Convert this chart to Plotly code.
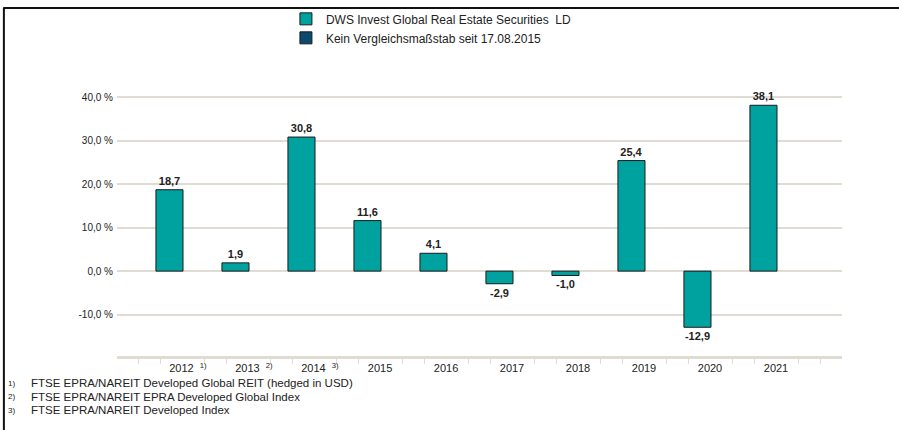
import plotly.graph_objects as go

years = ["2012", "2013", "2014", "2015", "2016", "2017", "2018", "2019", "2020", "2021"]
year_notes = ["1)", "2)", "3)", "", "", "", "", "", "", ""]
fund_values = [18.7, 1.9, 30.8, 11.6, 4.1, -2.9, -1.0, 25.4, -12.9, 38.1]
fund_name = "DWS Invest Global Real Estate Securities  LD"
bench_name = "Kein Vergleichsmaßstab seit 17.08.2015"
y_ticks = [-10, 0, 10, 20, 30, 40]
y_tick_labels = ["-10,0 %", "0,0 %", "10,0 %", "20,0 %", "30,0 %", "40,0 %"]
footnotes = [("1)", "FTSE EPRA/NAREIT Developed Global REIT (hedged in USD)"),
             ("2)", "FTSE EPRA/NAREIT EPRA Developed Global Index"),
             ("3)", "FTSE EPRA/NAREIT Developed Index")]

FONT = "Arial, Liberation Sans, sans-serif"
TEAL = "#00A29F"
NAVY = "#0B4A6E"
GRID = "#E0DBD3"

xpos = list(range(len(years)))
label_shift = 0.19
tick_vals = [x + label_shift + (0.09 if n else 0) for x, n in zip(xpos, year_notes)]
tick_text = [f"{y}  <sup>{n}</sup>" if n else y for y, n in zip(years, year_notes)]
minor_vals = [-1 + label_shift + k / 3 for k in range(0, 34) if k % 3 != 0 or k == 0]

fig = go.Figure()
fig.add_trace(go.Bar(
    x=xpos, y=fund_values, name=fund_name, width=0.41,
    marker=dict(color=TEAL, line=dict(color="#1a1a1a", width=1)),
    texttemplate="%{y:.1f}", textposition="outside", constraintext="none",
    textfont=dict(family=FONT, size=11, color="#222", weight="bold"),
    cliponaxis=False,
))
fig.add_trace(go.Bar(
    x=[None], y=[None], name=bench_name,
    marker=dict(color=NAVY, line=dict(color="#1a1a1a", width=1)),
))

annotations = []
for i, (num, txt) in enumerate(footnotes):
    yy = -0.092 - i * 0.046
    annotations.append(dict(xref="paper", yref="paper", x=-0.145, y=yy, xanchor="center", yanchor="middle",
                            text=num, showarrow=False, font=dict(family=FONT, size=8, color="#222")))
    annotations.append(dict(xref="paper", yref="paper", x=-0.121, y=yy, xanchor="left", yanchor="middle",
                            text=txt, showarrow=False, font=dict(family=FONT, size=11.5, color="#222")))

frame = dict(color="#111", width=2)
fig.update_layout(
    width=899, height=430,
    margin=dict(l=117, r=57, t=60, b=74, autoexpand=False),
    paper_bgcolor="white", plot_bgcolor="white",
    separators=",.",
    font=dict(family=FONT, size=11, color="#222"),
    showlegend=True,
    legend=dict(x=0.233, y=1.188, xanchor="left", yanchor="top",
                font=dict(family=FONT, size=12, color="#222"), itemwidth=30, tracegroupgap=0,
                bgcolor="rgba(0,0,0,0)"),
    bargap=0.5,
    xaxis=dict(range=[-0.795, 10.19], tickmode="array", tickvals=tick_vals, ticktext=tick_text,
               showgrid=False, zeroline=False, showline=True, linecolor=GRID, linewidth=3,
               ticks="outside", ticklen=0, tickangle=0, tickfont=dict(family=FONT, size=11, color="#222"),
               minor=dict(tickmode="array", tickvals=minor_vals, ticks="outside", ticklen=5,
                          tickcolor=GRID, tickwidth=1, showgrid=False)),
    yaxis=dict(range=[-19.5, 48.5], tickmode="array", tickvals=y_ticks, ticktext=y_tick_labels,
               showgrid=True, gridcolor=GRID, gridwidth=1.5, zeroline=False, showline=False,
               ticks="", ticklabelstandoff=3, tickfont=dict(family=FONT, size=10, color="#222")),
    annotations=annotations,
    shapes=[dict(type="line", xref="paper", yref="paper", x0=-0.157, y0=1.176, x1=1.1, y1=1.176,
                 line=frame, layer="above"),
            dict(type="line", xref="paper", yref="paper", x0=-0.156, y0=1.176, x1=-0.156, y1=-0.3,
                 line=frame, layer="above")],
)

fig.write_html("out.html", config={"displayModeBar": False},
               post_script="document.body.style.margin='0';document.body.style.overflow='hidden';")
